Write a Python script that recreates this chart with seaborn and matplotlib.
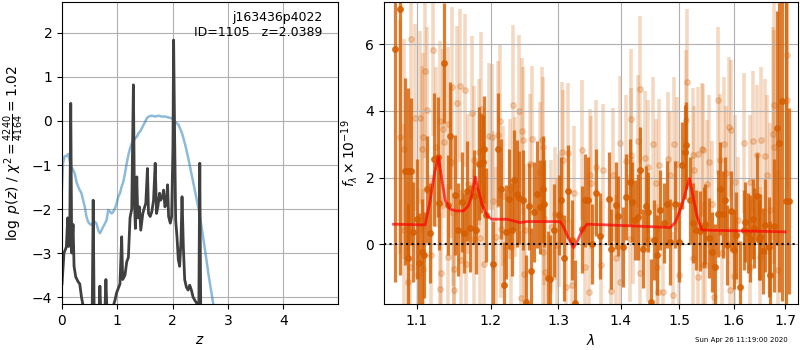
import numpy as np
import pandas as pd
import matplotlib
matplotlib.use('Agg')
import matplotlib.pyplot as plt
from matplotlib.ticker import FormatStrFormatter, NullLocator
import seaborn as sns

# log p(z) curve (dark)
pz_z = [0.000, 0.036, 0.079, 0.103, 0.121, 0.139, 0.158, 0.176, 0.200, 0.218,
        0.248, 0.291, 0.321, 0.352, 0.382, 0.473, 0.545, 0.564, 0.582, 0.667,
        0.685, 0.703, 0.776, 0.794, 0.812, 0.927, 0.958, 0.988, 1.048, 1.079,
        1.097, 1.139, 1.170, 1.200, 1.230, 1.261, 1.291, 1.309, 1.327, 1.352,
        1.370, 1.400, 1.424, 1.461, 1.485, 1.515, 1.545, 1.564, 1.594, 1.624,
        1.655, 1.685, 1.709, 1.733, 1.764, 1.782, 1.818, 1.836, 1.861, 1.885,
        1.909, 1.927, 1.958, 1.982, 2.006, 2.018, 2.036, 2.055, 2.079, 2.103,
        2.127, 2.152, 2.170, 2.194, 2.218, 2.248, 2.279, 2.309, 2.339, 2.370,
        2.400, 2.442, 2.473, 2.491, 2.509, 2.530]
pz_val = [-3.7, -3.0, -2.86, -2.2, -2.85, -2.7, 0.40, -3.0, -2.35, -3.3,
          -3.54, -3.65, -3.7, -4.0, -4.2, -4.6, -4.5, -1.8, -4.5, -4.4,
          -3.75, -4.4, -4.3, -3.6, -4.3, -4.2, -4.07, -3.9, -3.7, -2.63,
          -3.6, -3.5, -3.2, -3.1, -2.2, -2.0, 0.82, -1.8, -2.44, -1.27,
          -2.2, -1.95, -2.48, -2.1, -1.99, -1.87, -1.08, -2.1, -2.17, -2.06,
          -1.8, -0.96, -2.1, -1.95, -1.64, -1.8, -1.72, -1.57, -1.95, -1.87,
          -1.45, -2.17, -2.32, -2.17, -0.58, 1.84, -0.28, -2.25, -2.63, -3.15,
          -3.3, -2.7, -1.72, -2.86, -3.6, -3.77, -3.84, -3.73, -3.84, -4.0,
          -4.07, -4.15, -4.4, -0.96, -4.5, -5.0]

# smooth chi2 curve (light blue)
chi_z = [0.000, 0.018, 0.048, 0.079, 0.109, 0.139, 0.170, 0.200, 0.230, 0.261,
         0.291, 0.321, 0.352, 0.382, 0.412, 0.442, 0.473, 0.503, 0.533, 0.564,
         0.594, 0.624, 0.655, 0.685, 0.715, 0.745, 0.776, 0.806, 0.836, 0.867,
         0.897, 0.927, 0.958, 0.988, 1.018, 1.048, 1.079, 1.109, 1.139, 1.170,
         1.200, 1.230, 1.261, 1.291, 1.321, 1.352, 1.382, 1.412, 1.442, 1.473,
         1.503, 1.533, 1.564, 1.624, 1.685, 1.745, 1.806, 1.867, 1.927, 1.988,
         2.048, 2.109, 2.170, 2.230, 2.291, 2.352, 2.412, 2.473, 2.533, 2.594,
         2.655, 2.715, 2.776, 2.867]
chi_val = [-1.5, -0.96, -0.80, -0.80, -0.75, -0.89, -1.04, -1.11, -1.19, -1.38,
           -1.49, -1.57, -1.64, -1.80, -1.95, -2.17, -2.29, -2.34, -2.36, -2.31,
           -2.29, -2.33, -2.48, -2.55, -2.48, -2.40, -2.33, -2.25, -2.02, -2.06,
           -2.10, -2.06, -1.98, -1.87, -1.72, -1.64, -1.49, -1.38, -1.19, -0.96,
           -0.77, -0.62, -0.51, -0.47, -0.39, -0.36, -0.28, -0.24, -0.17, -0.09,
           -0.02, 0.06, 0.10, 0.12, 0.10, 0.12, 0.10, 0.10, 0.08, 0.06,
           -0.02, -0.09, -0.28, -0.55, -0.89, -1.27, -1.64, -2.02, -2.48, -3.0,
           -3.54, -4.0, -4.5, -5.3]

# binned spectrum (dark points)
dark_wave = [1.0718, 1.0785, 1.0845, 1.0885, 1.0890, 1.0927, 1.0953, 1.0997, 1.1032, 1.1066,
             1.1094, 1.1138, 1.1174, 1.1228, 1.1271, 1.1296, 1.1361, 1.1406, 1.1441, 1.1509,
             1.1554, 1.1600, 1.1632, 1.1669, 1.1706, 1.1762, 1.1795, 1.1831, 1.1864, 1.1893,
             1.1911, 1.1939, 1.2029, 1.2100, 1.2148, 1.2187, 1.2220, 1.2258, 1.2307, 1.2344,
             1.2380, 1.2418, 1.2467, 1.2507, 1.2551, 1.2587, 1.2626, 1.2677, 1.2716, 1.2762,
             1.2787, 1.2843, 1.2877, 1.2928, 1.3006, 1.3046, 1.3093, 1.3145, 1.3214, 1.3264,
             1.3369, 1.3410, 1.3458, 1.3528, 1.3586, 1.3651, 1.3804, 1.3842, 1.3913, 1.3952,
             1.4036, 1.4080, 1.4146, 1.4186, 1.4229, 1.4285, 1.4311, 1.4370, 1.4427, 1.4455,
             1.4502, 1.4554, 1.4611, 1.4657, 1.4733, 1.4790, 1.4840, 1.4932, 1.4993, 1.5052,
             1.5093, 1.5123, 1.5195, 1.5243, 1.5291, 1.5363, 1.5443, 1.5467, 1.5528, 1.5590,
             1.5639, 1.5695, 1.5745, 1.5795, 1.5838, 1.5870, 1.5951, 1.5995, 1.6046, 1.6110,
             1.6187, 1.6219, 1.6271, 1.6316, 1.6368, 1.6394, 1.6446, 1.6478, 1.6510, 1.6556,
             1.6609, 1.6674, 1.6707, 1.6773, 1.6827, 1.6873, 1.6927, 1.7007, 1.7075]
dark_flux = [5.87, 7.07, 2.19, 2.19, -0.40, 2.19, 0.37, 0.77, -0.55, -0.23,
             -0.33, 1.65, 0.35, 2.55, 2.62, 1.24, 5.45, 1.19, 3.26, 1.48,
             0.44, 1.28, 0.34, 1.60, 0.48, 1.44, 0.42, 2.42, 2.45, 2.48,
             2.85, 0.88, -0.60, 2.85, 1.67, -1.23, 0.37, 1.37, 0.44, 1.92,
             1.52, 1.40, 1.34, -1.73, 1.14, -0.81, 0.96, 1.50, 1.12, 1.65,
             1.22, -1.00, -1.03, 0.42, 0.87, 1.32, -0.41, 1.59, 0.12, -1.78,
             0.45, 1.32, 1.32, 0.02, 1.55, 0.25, 1.37, -0.15, 1.17, 0.85,
             -0.08, 1.42, 1.87, 1.27, 0.74, 0.82, 2.22, -0.13, 1.14, 0.97,
             -1.73, 0.14, -0.33, 1.04, 0.64, 1.20, 0.07, 1.20, 0.07, 2.37,
             2.77, 2.97, 1.32, 0.64, 0.42, 0.39, 0.52, 0.62, 0.19, -0.23,
             -0.68, 0.92, 1.67, 0.90, 1.32, -0.03, 1.00, -0.16, 0.27, -1.30,
             0.42, 0.67, 0.34, 0.17, 0.75, 0.49, 1.44, 0.12, 0.22, -0.21,
             0.57, -0.08, -0.91, 0.55, 3.49, 3.05, 4.29, 1.30, 1.30]
dark_err = [7.0, 8.0, 2.8, 2.5, 1.6, 2.2, 1.5, 1.8, 1.5, 1.6,
            1.3, 1.6, 1.5, 2.0, 1.8, 1.4, 1.8, 1.5, 1.6, 1.8,
            1.4, 1.5, 1.2, 1.5, 1.3, 1.4, 1.3, 1.7, 1.5, 1.4,
            1.6, 1.4, 1.3, 1.7, 1.5, 1.3, 1.4, 1.5, 1.4, 1.5,
            1.6, 1.4, 1.5, 1.4, 1.3, 1.3, 1.5, 1.6, 1.4, 1.6,
            1.3, 1.4, 1.3, 1.4, 1.2, 1.3, 1.3, 1.4, 1.2, 1.3,
            1.3, 1.4, 1.3, 1.2, 1.3, 1.3, 1.4, 1.2, 1.3, 1.2,
            1.2, 1.3, 1.3, 1.2, 1.2, 1.3, 1.3, 1.2, 1.2, 1.2,
            1.3, 1.2, 1.2, 1.2, 1.2, 1.3, 1.3, 1.3, 1.2, 1.3,
            1.4, 1.3, 1.3, 1.2, 1.2, 1.2, 1.2, 1.2, 1.2, 1.2,
            1.3, 1.3, 1.4, 1.3, 1.3, 1.2, 1.2, 1.2, 1.3, 1.4,
            1.2, 1.2, 1.2, 1.3, 1.2, 1.2, 1.3, 1.2, 1.3, 1.3,
            1.4, 1.5, 1.6, 2.0, 3.5, 4.5, 6.0, 8.0, 2.8]

# individual beam pixels (faint points)
light_wave = [1.0781, 1.0827, 1.0836, 1.0880, 1.0913, 1.0927, 1.0978, 1.1008, 1.1043, 1.1060,
              1.1080, 1.1085, 1.1112, 1.1138, 1.1183, 1.1205, 1.1250, 1.1298, 1.1302, 1.1324,
              1.1343, 1.1361, 1.1406, 1.1414, 1.1450, 1.1459, 1.1473, 1.1487, 1.1496, 1.1532,
              1.1577, 1.1595, 1.1642, 1.1656, 1.1678, 1.1739, 1.1762, 1.1771, 1.1840, 1.1845,
              1.1872, 1.1911, 1.1982, 1.2020, 1.2030, 1.2075, 1.2100, 1.2138, 1.2145, 1.2178,
              1.2283, 1.2290, 1.2327, 1.2359, 1.2418, 1.2439, 1.2462, 1.2470, 1.2477, 1.2503,
              1.2566, 1.2602, 1.2716, 1.2752, 1.2762, 1.2768, 1.2777, 1.2802, 1.2888, 1.2954,
              1.2980, 1.3006, 1.3062, 1.3070, 1.3116, 1.3155, 1.3208, 1.3249, 1.3374, 1.3421,
              1.3474, 1.3501, 1.3510, 1.3597, 1.3675, 1.3700, 1.3842, 1.3868, 1.3925, 1.3979,
              1.3990, 1.4080, 1.4150, 1.4163, 1.4174, 1.4202, 1.4289, 1.4311, 1.4322, 1.4398,
              1.4455, 1.4460, 1.4543, 1.4600, 1.4605, 1.4629, 1.4646, 1.4716, 1.4801, 1.4829,
              1.4885, 1.4915, 1.4963, 1.5003, 1.5123, 1.5141, 1.5243, 1.5248, 1.5270, 1.5334,
              1.5339, 1.5406, 1.5425, 1.5430, 1.5467, 1.5498, 1.5528, 1.5590, 1.5620, 1.5695,
              1.5745, 1.5777, 1.5820, 1.5857, 1.5899, 1.5918, 1.5951, 1.5995, 1.6027, 1.6072,
              1.6187, 1.6303, 1.6316, 1.6368, 1.6446, 1.6497, 1.6523, 1.6595, 1.6642, 1.6694,
              1.6760, 1.6773, 1.6787, 1.6853, 1.7028, 1.7041]
light_flux = [3.22, 0.42, 2.87, -1.12, -0.68, 6.15, 3.80, -0.93, 3.80, 2.85,
              3.23, -0.73, 5.19, 4.02, -0.33, 5.84, 2.92, 3.69, -1.35, -0.85,
              3.45, 3.08, 3.62, -0.38, 2.48, 4.73, 0.95, -1.38, -0.75, 4.25,
              4.76, -0.46, 4.62, -0.58, 1.82, 3.94, 0.15, 2.54, 2.77, 0.20,
              4.06, -0.58, 3.24, 3.22, 1.29, 0.22, 3.29, 3.69, 0.47, 1.44,
              1.65, -0.08, 4.19, 1.72, 3.99, -1.61, 3.39, 3.12, -0.90, 0.42,
              2.40, 3.15, 2.17, 3.12, -0.23, 2.92, 0.79, -0.83, 0.52, 0.92,
              -0.03, 0.72, 2.77, 2.52, -1.28, 2.75, -1.23, 1.55, 2.83, -0.68,
              -1.45, 2.07, 1.85, 2.32, -0.61, 2.22, -1.41, 2.09, -0.41, 3.04,
              -1.14, 2.49, 0.17, 3.77, 2.69, 0.72, 3.09, -0.85, 4.65, 2.60,
              2.32, 0.17, 3.02, 1.85, -0.68, -1.43, 2.37, -1.43, 2.57, 2.09,
              -1.53, 3.02, 2.42, -0.93, 3.72, 4.86, 2.69, -0.41, 2.24, 2.72,
              -0.98, 2.85, 2.82, -0.63, -0.63, 1.82, 2.47, 1.20, -1.58, 4.32,
              2.52, -0.25, 3.02, 2.15, 3.52, -1.38, 3.42, -0.96, 1.87, 0.72,
              3.05, 1.87, -0.68, 3.09, 2.69, -0.38, 3.12, 2.66, 2.07, 1.04,
              3.32, 4.17, 2.92, -0.78, 5.69, 4.34]
light_err = [3.5, 3.2, 3.3, 3.0, 2.8, 3.0, 2.8, 2.6, 2.6, 2.5,
             2.5, 2.4, 2.6, 2.5, 2.4, 2.6, 2.4, 2.4, 2.3, 2.3,
             2.4, 2.3, 2.3, 2.2, 2.3, 2.4, 2.2, 2.2, 2.2, 2.3,
             2.3, 2.1, 2.3, 2.1, 2.1, 2.3, 2.1, 2.2, 2.2, 2.1,
             2.3, 2.1, 2.2, 2.2, 2.1, 2.1, 2.2, 2.3, 2.1, 2.1,
             2.1, 2.0, 2.4, 2.1, 2.3, 2.0, 2.2, 2.2, 2.0, 2.0,
             2.1, 2.2, 2.1, 2.2, 2.0, 2.1, 2.0, 2.0, 2.0, 2.0,
             2.0, 2.0, 2.1, 2.1, 2.0, 2.1, 2.0, 2.0, 2.1, 2.0,
             2.0, 2.0, 2.0, 2.0, 1.9, 2.0, 1.9, 2.0, 1.9, 2.0,
             1.9, 2.0, 1.9, 2.1, 2.0, 1.9, 2.0, 1.9, 2.2, 2.0,
             2.0, 1.9, 2.0, 1.9, 1.9, 1.9, 2.0, 1.9, 2.0, 1.9,
             1.9, 2.0, 2.0, 1.9, 2.1, 2.2, 2.0, 1.9, 1.9, 2.0,
             1.9, 2.0, 2.0, 1.9, 1.9, 1.9, 2.0, 1.9, 1.9, 2.2,
             2.0, 1.9, 2.0, 2.0, 2.1, 1.9, 2.1, 1.9, 2.0, 1.9,
             2.1, 2.0, 2.0, 2.1, 2.1, 2.1, 2.2, 2.3, 2.4, 2.6,
             3.2, 3.5, 3.5, 3.0, 4.0, 4.0]

# best-fit model (red)
model_wave = [1.0700, 1.1108, 1.1174, 1.1231, 1.1284, 1.1330, 1.1374, 1.1441, 1.1532, 1.1622,
              1.1692, 1.1739, 1.1785, 1.1831, 1.1879, 1.1949, 1.2020, 1.2235, 1.2331, 1.2429,
              1.2527, 1.2727, 1.2927, 1.3031, 1.3082, 1.3160, 1.3239, 1.3299, 1.3370, 1.3449,
              1.3771, 1.4322, 1.4840, 1.4927, 1.5016, 1.5073, 1.5136, 1.5180, 1.5248, 1.5321,
              1.5406, 1.5497, 1.6124, 1.6764, 1.7000]
model_flux = [0.60, 0.58, 1.32, 2.13, 2.62, 1.92, 1.32, 1.05, 1.00, 1.00,
              1.16, 1.50, 2.02, 1.60, 1.20, 0.85, 0.75, 0.75, 0.70, 0.65,
              0.68, 0.68, 0.68, 0.68, 0.52, 0.17, -0.10, 0.10, 0.40, 0.60,
              0.58, 0.54, 0.50, 0.65, 1.02, 1.32, 1.72, 1.97, 1.42, 0.82,
              0.43, 0.42, 0.40, 0.38, 0.37]

wave_ticks = [1.1, 1.2, 1.3, 1.4, 1.5, 1.6, 1.7]
grism_color = '#d55e00'

if __name__ == '__main__':
    fig = plt.figure(figsize=(8, 3.5), dpi=100)
    ax_pz = fig.add_axes([0.0775, 0.131, 0.345, 0.863])
    ax_sp = fig.add_axes([0.48, 0.131, 0.5175, 0.863])

    # --- left: p(z)
    sns.lineplot(x=chi_z, y=chi_val, ax=ax_pz, color='tab:blue', alpha=0.5,
                 linewidth=1.8, sort=False)
    sns.lineplot(x=pz_z, y=pz_val, ax=ax_pz, color='0.25', linewidth=2,
                 sort=False)
    ax_pz.set_xlim(0, 4.99)
    ax_pz.set_ylim(-4.16, 2.70)
    ax_pz.set_xticks([0, 1, 2, 3, 4])
    ax_pz.set_yticks([-4, -3, -2, -1, 0, 1, 2])
    ax_pz.grid(True)
    ax_pz.set_xlabel('$z$')
    ax_pz.set_ylabel(r'$\log\ p(z)$ / $\chi^2=\frac{4240}{4164}=1.02$')
    ax_pz.text(0.945, 0.97, 'j163436p4022\nID=1105   z=2.0389',
               transform=ax_pz.transAxes, ha='right', va='top', fontsize=9)

    # --- right: spectrum
    # faint per-beam points underneath, binned points on top
    ax_sp.errorbar(light_wave, light_flux, yerr=light_err, fmt='o', ms=4,
                   color=grism_color, alpha=0.24, elinewidth=2.6, zorder=1)
    ax_sp.errorbar(dark_wave, dark_flux, yerr=dark_err, fmt='o', ms=4,
                   color=grism_color, alpha=0.8, elinewidth=2.3, zorder=2)
    sns.lineplot(x=model_wave, y=model_flux, ax=ax_sp, color='r', alpha=0.7,
                 linewidth=2, sort=False, zorder=3)
    ax_sp.axhline(0, color='k', linestyle=':', linewidth=1.5, zorder=4)

    ax_sp.set_xscale('log')
    ax_sp.set_xlim(1.058, 1.726)
    ax_sp.set_ylim(-1.8, 7.27)
    ax_sp.set_xticks(wave_ticks)
    ax_sp.xaxis.set_major_formatter(FormatStrFormatter('%.1f'))
    ax_sp.xaxis.set_minor_locator(NullLocator())
    ax_sp.set_yticks([0, 2, 4, 6])
    ax_sp.grid(True)
    ax_sp.set_xlabel(r'$\lambda$')
    ax_sp.set_ylabel(r'$f_\lambda\times10^{-19}$')

    fig.text(0.985, 0.029, 'Sun Apr 26 11:19:00 2020', ha='right',
             va='center', fontsize=5)

    fig.savefig('out.png', dpi=100)
